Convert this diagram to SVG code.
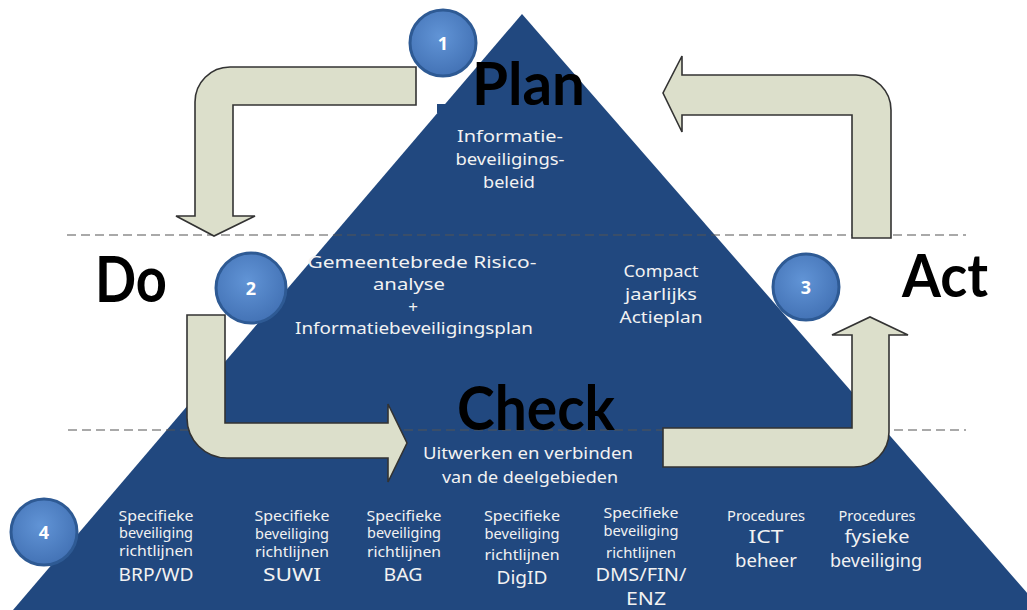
<svg xmlns="http://www.w3.org/2000/svg" width="1027" height="610" viewBox="0 0 1027 610">
<defs>
<radialGradient id="cg" cx="45%" cy="40%" r="65%">
<stop offset="0" stop-color="#6194d6"/>
<stop offset="1" stop-color="#4170b3"/>
</radialGradient>
</defs>
<style>
.tri{fill:#21487f}
.dash{stroke:#555;stroke-width:1.2;stroke-dasharray:9 5;fill:none}
.arr{fill:#dcdfcb;stroke:#333;stroke-width:1.6;stroke-linejoin:miter}
.circ{fill:url(#cg);stroke:#2e5a94;stroke-width:3}
.num{font-family:"Open Sans","Liberation Sans",sans-serif;font-weight:700;font-size:18px;fill:#fff;text-anchor:middle}
.big{font-family:Lato,"Liberation Sans",sans-serif;font-weight:700;fill:#000}
.w{font-family:"Noto Sans","DejaVu Sans",sans-serif;fill:#f2f2f2;text-anchor:middle}
.s{font-size:14px}
.m{font-size:17px}
.l{font-size:18px}
</style>
<rect width="1027" height="610" fill="#fff"/>
<g id="pyramid">
<polygon class="tri" points="522,14 13,610 1042,610"/>
<rect class="tri" x="437" y="104" width="12" height="9"/>
</g>
<g id="dividers">
<line class="dash" x1="67" y1="235" x2="966" y2="235"/>
<line class="dash" x1="68" y1="430" x2="966" y2="430"/>
</g>
<g id="connectors">
<path class="arr" d="M416,67 H230 A35,35 0 0 0 195,102 V216 H176 L214,236 L255,216 H233 V105 H416 Z"/>
<path class="arr" d="M187,315 H225 V423 H388 V404 L407,443 L388,482 V458 H227 A40,40 0 0 1 187,418 Z"/>
<path class="arr" d="M663,428 H852 V335 H832 L870,317 L908,335 H889 V432 A35,35 0 0 1 854,467 H663 Z"/>
<path class="arr" d="M891,238 H852 V115 H682 V132 L663,93 L682,56 V75 H856 A35,35 0 0 1 891,110 Z"/>
</g>
<g id="step1">
<circle class="circ" cx="443" cy="43" r="33"/>
<text class="num" x="443" y="50">1</text>
</g>
<g id="step2">
<circle class="circ" cx="251" cy="288" r="35"/>
<text class="num" x="251" y="295">2</text>
</g>
<g id="step3">
<circle class="circ" cx="806" cy="287" r="33"/>
<text class="num" x="806" y="294">3</text>
</g>
<g id="step4">
<circle class="circ" cx="44" cy="532" r="33"/>
<text class="num" x="44" y="539">4</text>
</g>
<g id="plan">
<text class="big" x="472" y="105" font-size="60" textLength="113" lengthAdjust="spacingAndGlyphs">Plan</text>
<text class="w m" x="510" y="142" textLength="106" lengthAdjust="spacingAndGlyphs">Informatie-</text>
<text class="w m" x="510" y="165" textLength="109" lengthAdjust="spacingAndGlyphs">beveiligings-</text>
<text class="w m" x="509" y="188" textLength="52" lengthAdjust="spacingAndGlyphs">beleid</text>
</g>
<g id="do">
<text class="big" x="95" y="302" font-size="64" textLength="72" lengthAdjust="spacingAndGlyphs">Do</text>
<text class="w m" x="422" y="268" textLength="229" lengthAdjust="spacingAndGlyphs">Gemeentebrede Risico-</text>
<text class="w m" x="409" y="290" textLength="72" lengthAdjust="spacingAndGlyphs">analyse</text>
<text class="w m" x="413" y="313">+</text>
<text class="w m" x="414" y="334" textLength="238" lengthAdjust="spacingAndGlyphs">Informatiebeveiligingsplan</text>
</g>
<g id="act">
<text class="big" x="902" y="297" font-size="60" textLength="86" lengthAdjust="spacingAndGlyphs">Act</text>
<text class="w m" x="661" y="277" textLength="75" lengthAdjust="spacingAndGlyphs">Compact</text>
<text class="w m" x="661" y="300" textLength="72" lengthAdjust="spacingAndGlyphs">jaarlijks</text>
<text class="w m" x="661" y="323" textLength="83" lengthAdjust="spacingAndGlyphs">Actieplan</text>
</g>
<g id="check">
<text class="big" x="457" y="430" font-size="62" textLength="158" lengthAdjust="spacingAndGlyphs">Check</text>
<text class="w m" x="528" y="459" textLength="210" lengthAdjust="spacingAndGlyphs">Uitwerken en verbinden</text>
<text class="w m" x="530" y="483" textLength="176" lengthAdjust="spacingAndGlyphs">van de deelgebieden</text>
</g>
<g id="brp">
<text class="w s" x="156" y="521" textLength="75" lengthAdjust="spacingAndGlyphs">Specifieke</text>
<text class="w s" x="156" y="538" textLength="74" lengthAdjust="spacingAndGlyphs">beveiliging</text>
<text class="w s" x="156" y="556" textLength="74" lengthAdjust="spacingAndGlyphs">richtlijnen</text>
<text class="w l" x="156" y="581" textLength="75" lengthAdjust="spacingAndGlyphs">BRP/WD</text>
</g>
<g id="suwi">
<text class="w s" x="292" y="521" textLength="75" lengthAdjust="spacingAndGlyphs">Specifieke</text>
<text class="w s" x="292" y="539" textLength="74" lengthAdjust="spacingAndGlyphs">beveiliging</text>
<text class="w s" x="292" y="557" textLength="74" lengthAdjust="spacingAndGlyphs">richtlijnen</text>
<text class="w l" x="292" y="581" textLength="58" lengthAdjust="spacingAndGlyphs">SUWI</text>
</g>
<g id="bag">
<text class="w s" x="404" y="521" textLength="75" lengthAdjust="spacingAndGlyphs">Specifieke</text>
<text class="w s" x="404" y="538" textLength="74" lengthAdjust="spacingAndGlyphs">beveiliging</text>
<text class="w s" x="404" y="557" textLength="74" lengthAdjust="spacingAndGlyphs">richtlijnen</text>
<text class="w l" x="403" y="581" textLength="39" lengthAdjust="spacingAndGlyphs">BAG</text>
</g>
<g id="digid">
<text class="w s" x="522" y="521" textLength="76" lengthAdjust="spacingAndGlyphs">Specifieke</text>
<text class="w s" x="522" y="539" textLength="75" lengthAdjust="spacingAndGlyphs">beveiliging</text>
<text class="w s" x="522" y="560" textLength="75" lengthAdjust="spacingAndGlyphs">richtlijnen</text>
<text class="w l" x="522" y="584" textLength="51" lengthAdjust="spacingAndGlyphs">DigID</text>
</g>
<g id="dms">
<text class="w s" x="641" y="518" textLength="75" lengthAdjust="spacingAndGlyphs">Specifieke</text>
<text class="w s" x="641" y="536" textLength="75" lengthAdjust="spacingAndGlyphs">beveiliging</text>
<text class="w s" x="641" y="558" textLength="70" lengthAdjust="spacingAndGlyphs">richtlijnen</text>
<text class="w l" x="641" y="581" textLength="91" lengthAdjust="spacingAndGlyphs">DMS/FIN/</text>
<text class="w l" x="646" y="605" textLength="40" lengthAdjust="spacingAndGlyphs">ENZ</text>
</g>
<g id="ict">
<text class="w s" x="766" y="521" textLength="78" lengthAdjust="spacingAndGlyphs">Procedures</text>
<text class="w l" x="766" y="543" textLength="35" lengthAdjust="spacingAndGlyphs">ICT</text>
<text class="w l" x="766" y="567" textLength="62" lengthAdjust="spacingAndGlyphs">beheer</text>
</g>
<g id="fysiek">
<text class="w s" x="877" y="521" textLength="77" lengthAdjust="spacingAndGlyphs">Procedures</text>
<text class="w l" x="877" y="543" textLength="65" lengthAdjust="spacingAndGlyphs">fysieke</text>
<text class="w l" x="876" y="567" textLength="92" lengthAdjust="spacingAndGlyphs">beveiliging</text>
</g>
</svg>
